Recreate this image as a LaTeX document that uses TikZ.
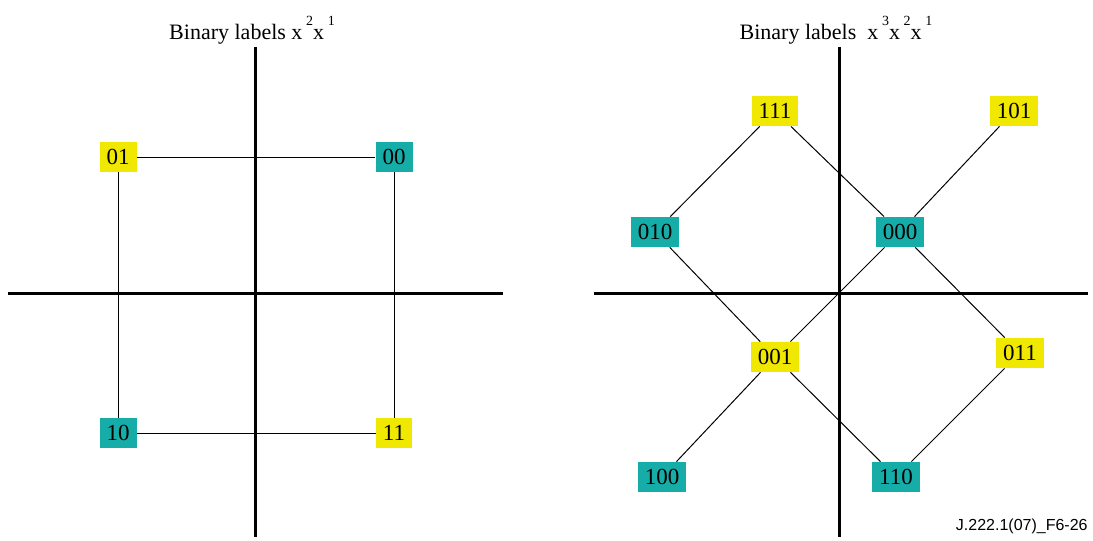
\documentclass[tikz,border=0pt]{standalone}
\usepackage{fontspec}
\setmainfont{Liberation Serif}
\newfontfamily\footfont{Liberation Sans}
\usetikzlibrary{positioning}
\definecolor{BitYellow}{RGB}{240,232,0}
\definecolor{BitTeal}{RGB}{22,172,168}
\newcommand{\supbit}[1]{\,\raisebox{0.6em}{\fontsize{7}{7}\selectfont #1}}

\begin{document}
\begin{tikzpicture}[x=0.5pt,y=-0.5pt,
		bit/.style={inner xsep=3.5pt, inner ysep=0pt, minimum height=15pt, font=\fontsize{11.5}{12}\selectfont},
		ybit/.style={bit, fill=BitYellow},
		tbit/.style={bit, fill=BitTeal},
		ax/.style={line width=1.5pt},
		ln/.style={line width=0.5pt}]
	\useasboundingbox (0,0) rectangle (1093,541);

	% Two bits
	\node[anchor=base, font=\fontsize{11}{12}\selectfont] (t1) at (252,39) {Binary labels x\supbit{2}x\supbit{1}};
	\coordinate (l1) at (8,293); \coordinate (r1) at (503,293);
	\coordinate (u1) at (255,47); \coordinate (d1) at (255,537);
	\draw[ax] (l1) -- (r1); \draw[ax] (u1) -- (d1);
	\node[ybit] (b01) at (118,157) {01};
	\node[tbit] (b00) at (394,157) {00};
	\node[tbit] (b10) at (118,433) {10};
	\node[ybit] (b11) at (394,433) {11};
	\draw[ln] (b01) -- (b00); \draw[ln] (b10) -- (b11);
	\draw[ln] (b01) -- (b10); \draw[ln] (b00) -- (b11);

	% Three bits
	\node[anchor=base, font=\fontsize{11}{12}\selectfont] (t2) at (836,39) {Binary labels\ \ x\supbit{3}x\supbit{2}x\supbit{1}};
	\coordinate (l2) at (594,293); \coordinate (r2) at (1088,293);
	\coordinate (u2) at (839,47); \coordinate (d2) at (839,537);
	\draw[ax] (l2) -- (r2); \draw[ax] (u2) -- (d2);
	\node[ybit] (c111) at (775,111) {111};
	\node[ybit] (c101) at (1014,111) {101};
	\node[tbit] (c010) at (655,232) {010};
	\node[tbit] (c000) at (900,232) {000};
	\node[ybit] (c001) at (775,357) {001};
	\node[ybit] (c011) at (1020,353) {011};
	\node[tbit] (c100) at (662,477) {100};
	\node[tbit] (c110) at (896,477) {110};
	\draw[ln] (c111) -- (c010); \draw[ln] (c111) -- (c000);
	\draw[ln] (c101) -- (c000); \draw[ln] (c000) -- (c001);
	\draw[ln] (c010) -- (c001); \draw[ln] (c000) -- (c011);
	\draw[ln] (c001) -- (c100); \draw[ln] (c001) -- (c110);
	\draw[ln] (c011) -- (c110);

	\node[anchor=base east, inner sep=0pt, font=\footfont\fontsize{8}{9}\selectfont] (fig) at (1088,530) {J.222.1(07)\_F6-26};
\end{tikzpicture}
\end{document}
